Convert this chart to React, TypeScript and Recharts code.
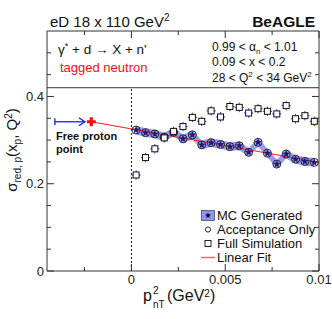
import React from 'react';
import {
  ComposedChart,
  XAxis,
  YAxis,
  Scatter,
  Line,
  Area,
  ErrorBar,
  ReferenceLine,
  ReferenceArea,
} from 'recharts';

const W = 332;
const H = 319;
const PLOT_L = 47;
const PLOT_R = 319;
const PLOT_T = 31;
const PLOT_B = 271;

const FRAME = '#333';
const FONT = '"Liberation Sans", Arial, Helvetica, sans-serif';
const BAND = '#6f6ff5';

// p_nT^2 bin centres (GeV^2)
const ptBins = [
  0.00025, 0.00075, 0.00125, 0.00175, 0.00225, 0.00275, 0.00325, 0.00375, 0.00425, 0.00475,
  0.00525, 0.00575, 0.00625, 0.00675, 0.00725, 0.00775, 0.00825, 0.00875, 0.00925, 0.00975,
];

// sigma_red values
const mcGenerated = [
  0.323, 0.317, 0.314, 0.307, 0.318, 0.303, 0.312, 0.289, 0.294, 0.29,
  0.285, 0.287, 0.272, 0.295, 0.27, 0.245, 0.268, 0.256, 0.251, 0.249,
];
const mcBandErr = [
  0.01, 0.01, 0.01, 0.01, 0.01, 0.01, 0.01, 0.01, 0.01, 0.01,
  0.01, 0.01, 0.01, 0.01, 0.01, 0.01, 0.01, 0.01, 0.01, 0.01,
];
const acceptanceOnly = [
  0.323, 0.317, 0.314, 0.307, 0.318, 0.303, 0.312, 0.289, 0.294, 0.29,
  0.285, 0.287, 0.272, 0.295, 0.27, 0.245, 0.268, 0.256, 0.251, 0.249,
];
const fullSim = [
  0.22, 0.26, 0.28, 0.305, 0.32, 0.331, 0.352, 0.343, 0.367, 0.353,
  0.377, 0.375, 0.362, 0.372, 0.366, 0.36, 0.379, 0.349, 0.356, 0.343,
];
const fullSimErr = [
  0.011, 0.011, 0.011, 0.011, 0.011, 0.011, 0.011, 0.011, 0.011, 0.011,
  0.011, 0.011, 0.011, 0.011, 0.011, 0.011, 0.011, 0.011, 0.011, 0.011,
];

// free proton point and the linear fit through it
const freeProtonX = [-0.00214];
const freeProtonY = [0.342];
const fitX = [-0.00214, 0.01];
const fitY = [0.342, 0.249];
const arrowX = [-0.00408, -0.00248];

const xTicks = [-0.0025, 0, 0.0025, 0.005, 0.0075, 0.01];
const xLabeled = [0, 0.005, 0.01];
const yTicks = [0, 0.05, 0.1, 0.15, 0.2, 0.25, 0.3, 0.35, 0.4, 0.45, 0.5];
const yLabeled = [0, 0.2, 0.4];

const mcData = ptBins.map((x, i) => ({
  x,
  y: mcGenerated[i],
  band: [mcGenerated[i] - mcBandErr[i], mcGenerated[i] + mcBandErr[i]],
}));
const accData = ptBins.map((x, i) => ({ x, y: acceptanceOnly[i] }));
const simData = ptBins.map((x, i) => ({ x, y: fullSim[i], ey: fullSimErr[i], ex: 0.00025 }));
const protonData = freeProtonX.map((x, i) => ({ x, y: freeProtonY[i] }));
const fitData = fitX.map((x, i) => ({ x, y: fitY[i] }));

const starPoints = (cx: number, cy: number, ro: number, ri: number) => {
  const pts: string[] = [];
  for (let k = 0; k < 10; k++) {
    const r = k % 2 === 0 ? ro : ri;
    const a = -Math.PI / 2 + (k * Math.PI) / 5;
    pts.push(`${cx + r * Math.cos(a)},${cy + r * Math.sin(a)}`);
  }
  return pts.join(' ');
};

const Star = (props: any) => {
  const { cx, cy } = props;
  return <polygon points={starPoints(cx, cy, 4, 1.8)} fill="#1c1c78" />;
};

const OpenCircle = (props: any) => {
  const { cx, cy } = props;
  return <circle cx={cx} cy={cy} r={4} fill="none" stroke="#222" strokeWidth={1} />;
};

const OpenSquare = (props: any) => {
  const { cx, cy } = props;
  return <rect x={cx - 3} y={cy - 3} width={6} height={6} fill="#fff" stroke="#111" strokeWidth={1} />;
};

const RedCross = (props: any) => {
  const { cx, cy } = props;
  const a = 4.5;
  const b = 1.6;
  const d = `M${cx - b},${cy - a}H${cx + b}V${cy - b}H${cx + a}V${cy + b}H${cx + b}V${cy + a}H${cx - b}V${cy + b}H${cx - a}V${cy - b}H${cx - b}Z`;
  return <path d={d} fill="#ee1111" />;
};

const Arrow = (props: any) => {
  const { x1, y1, x2 } = props;
  return (
    <g stroke="#1a1aff" strokeWidth={1.3} fill="none">
      <line x1={x1} y1={y1} x2={x2} y2={y1} />
      <line x1={x1} y1={y1 - 3.5} x2={x1} y2={y1 + 3.5} />
      <polyline points={`${x2 - 6},${y1 - 4} ${x2},${y1} ${x2 - 6},${y1 + 4}`} />
    </g>
  );
};

const XTick = (props: any) => {
  const { x, y, payload } = props;
  const v = payload.value;
  const major = xLabeled.includes(v);
  const len = major ? 7 : 4;
  return (
    <g>
      <line x1={x} y1={y} x2={x} y2={y - len} stroke={FRAME} />
      <line x1={x} y1={PLOT_T} x2={x} y2={PLOT_T + len} stroke={FRAME} />
      {major && (
        <text x={x} y={y + 13} textAnchor="middle" fontSize={13} fontFamily={FONT} fill="#222">
          {String(v)}
        </text>
      )}
    </g>
  );
};

const YTick = (props: any) => {
  const { x, y, payload } = props;
  const v = payload.value;
  const major = yLabeled.includes(v);
  const len = major ? 7 : 4;
  return (
    <g>
      <line x1={x} y1={y} x2={x + len} y2={y} stroke={FRAME} />
      <line x1={PLOT_R} y1={y} x2={PLOT_R - len} y2={y} stroke={FRAME} />
      {major && (
        <text x={x - 3} y={y + 4.5} textAnchor="end" fontSize={13} fontFamily={FONT} fill="#222">
          {String(v)}
        </text>
      )}
    </g>
  );
};

const legendRows = ['MC Generated', 'Acceptance Only', 'Full Simulation', 'Linear Fit'];

const Overlay = () => (
  <svg
    width={W}
    height={H}
    style={{ position: 'absolute', left: 0, top: 0, pointerEvents: 'none' }}
    fontFamily={FONT}
  >
    <text x={50} y={26.5} fontSize={15} fill="#111">
      eD 18 x 110 GeV<tspan dy={-6} fontSize={10}>2</tspan>
    </text>
    <text x={315} y={26.5} textAnchor="end" fontSize={15.5} fontWeight="bold" fill="#111">
      BeAGLE
    </text>

    <text x={58} y={54} fontSize={13.5} fill="#111">
      γ<tspan dy={-5} fontSize={9}>*</tspan>
      <tspan dy={5}> + d → X + n'</tspan>
    </text>
    <text x={60} y={72} fontSize={13} fill="#ee1111">
      tagged neutron
    </text>

    <text x={212} y={51} fontSize={12} fill="#111">
      0.99 &lt; α<tspan dy={3} fontSize={8}>n</tspan>
      <tspan dy={-3}>  &lt; 1.01</tspan>
    </text>
    <text x={212} y={66} fontSize={12} fill="#111">
      0.09 &lt; x &lt; 0.2
    </text>
    <text x={212} y={82} fontSize={12} fill="#111">
      28 &lt; Q<tspan dy={-5} fontSize={8}>2</tspan>
      <tspan dy={5}> &lt; 34 GeV</tspan>
      <tspan dy={-5} fontSize={8}>2</tspan>
    </text>

    <text x={56} y={140} fontSize={11} fontWeight="bold" fill="#111">
      Free proton
    </text>
    <text x={56} y={152.5} fontSize={11} fontWeight="bold" fill="#111">
      point
    </text>

    <text transform="translate(17,150) rotate(-90)" textAnchor="middle" fontSize={15} fill="#111">
      σ<tspan dy={4} fontSize={10}>red, p</tspan>
      <tspan dy={-4}>(x</tspan>
      <tspan dy={4} fontSize={10}>p</tspan>
      <tspan dy={-4}>, Q</tspan>
      <tspan dy={-5} fontSize={10}>2</tspan>
      <tspan dy={5}>)</tspan>
    </text>

    <text x={143} y={301} fontSize={16} fill="#111">p</text>
    <text x={153} y={294} fontSize={10} fill="#111">2</text>
    <text x={153} y={308} fontSize={10} fill="#111">nT</text>
    <text x={167} y={301} fontSize={16} fill="#111">
      (GeV<tspan dy={-4} fontSize={10}>2</tspan>
      <tspan dy={4}>)</tspan>
    </text>

    {legendRows.map((name, i) => {
      const cy = 215.5 + i * 14;
      return (
        <g key={name}>
          {i === 0 && (
            <>
              <rect x={201.5} y={cy - 5} width={13} height={10} fill={BAND} fillOpacity={0.75} stroke="#222" strokeWidth={0.6} />
              <polygon points={starPoints(208, cy, 3.2, 1.4)} fill="#111" />
            </>
          )}
          {i === 1 && <circle cx={208} cy={cy} r={2.6} fill="none" stroke="#222" />}
          {i === 2 && <rect x={205} y={cy - 3} width={6} height={6} fill="none" stroke="#222" />}
          {i === 3 && <line x1={201} x2={215} y1={cy} y2={cy} stroke="#ff6666" strokeWidth={1.5} />}
          <text x={217} y={cy + 4.5} fontSize={13} fill="#111">
            {name}
          </text>
        </g>
      );
    })}
  </svg>
);

export default function App() {
  return (
    <div style={{ position: 'absolute', left: 0, top: 0, width: W, height: H, background: '#fff' }}>
      <ComposedChart width={W} height={H} margin={{ top: PLOT_T, right: W - PLOT_R, left: 0, bottom: 0 }}>
        <XAxis
          dataKey="x"
          type="number"
          domain={[-0.0045, 0.01]}
          allowDataOverflow
          ticks={xTicks}
          interval={0}
          tick={<XTick />}
          tickLine={false}
          axisLine={false}
          tickSize={0}
          tickMargin={0}
          height={H - PLOT_B}
        />
        <YAxis
          type="number"
          domain={[0, 0.55]}
          allowDataOverflow
          ticks={yTicks}
          interval={0}
          tick={<YTick />}
          tickLine={false}
          axisLine={false}
          tickSize={0}
          tickMargin={0}
          width={PLOT_L}
        />
        <ReferenceArea x1={-0.0045} x2={0.01} y1={0} y2={0.55} fill="none" stroke={FRAME} strokeWidth={1} ifOverflow="visible" />
        <ReferenceLine y={0.42} stroke={FRAME} strokeWidth={1} />
        <ReferenceLine
          segment={[{ x: 0, y: 0 }, { x: 0, y: 0.42 }]}
          stroke="#111"
          strokeDasharray="2 2"
        />
        <ReferenceLine
          segment={[{ x: arrowX[0], y: freeProtonY[0] }, { x: arrowX[1], y: freeProtonY[0] }]}
          shape={Arrow}
        />
        <Area
          data={mcData}
          dataKey="band"
          type="linear"
          stroke="none"
          fill={BAND}
          fillOpacity={0.7}
          isAnimationActive={false}
        />
        <Scatter data={accData} dataKey="y" shape={OpenCircle} isAnimationActive={false} />
        <Scatter data={mcData} dataKey="y" shape={Star} isAnimationActive={false} />
        <Line
          data={fitData}
          dataKey="y"
          type="linear"
          stroke="#ff1a1a"
          strokeWidth={1}
          dot={false}
          isAnimationActive={false}
        />
        <Scatter data={simData} dataKey="y" shape={OpenSquare} isAnimationActive={false}>
          <ErrorBar dataKey="ey" direction="y" width={0} stroke="#3a3aff" strokeWidth={1} />
          <ErrorBar dataKey="ex" direction="x" width={0} stroke="#3a3aff" strokeWidth={1} />
        </Scatter>
        <Scatter data={protonData} dataKey="y" shape={RedCross} isAnimationActive={false} />
      </ComposedChart>
      <Overlay />
    </div>
  );
}
